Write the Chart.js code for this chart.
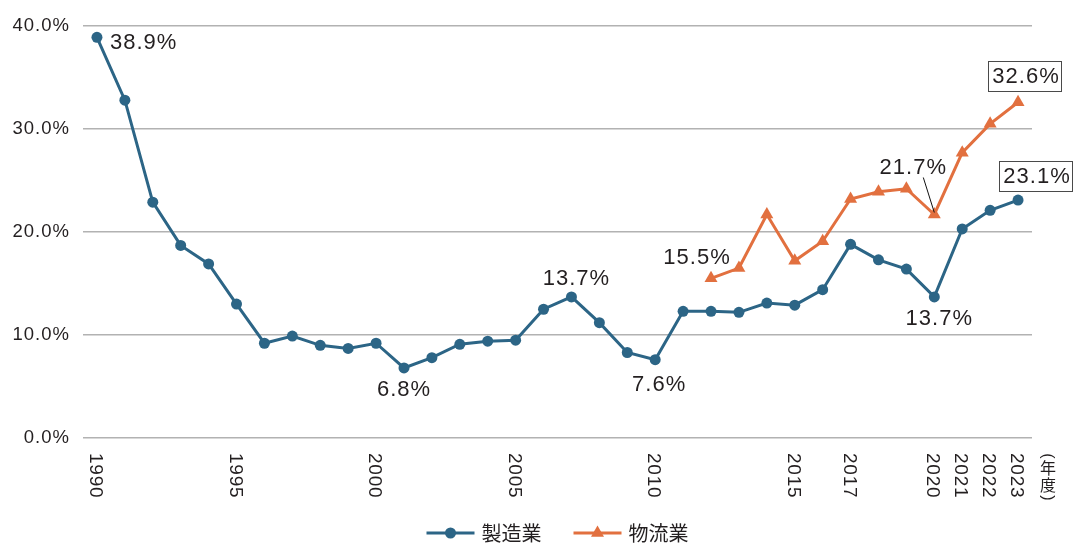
<!DOCTYPE html>
<html>
<head>
<meta charset="utf-8">
<script src="https://cdn.jsdelivr.net/npm/chart.js@4.4.1/dist/chart.umd.min.js"></script>
<style>
  html, body { margin: 0; padding: 0; background: #ffffff; }
  #wrap { width: 1075px; height: 543px; position: relative; }
</style>
</head>
<body>
<div id="wrap"><canvas id="chart" width="1075" height="543"></canvas></div>
<script>
// Fiscal years on the category axis
const years = ['1990','1991','1992','1993','1994','1995','1996','1997','1998','1999',
               '2000','2001','2002','2003','2004','2005','2006','2007','2008','2009',
               '2010','2011','2012','2013','2014','2015','2016','2017','2018','2019',
               '2020','2021','2022','2023'];

// Years that get a printed label under the axis
const shownYears = ['1990','1995','2000','2005','2010','2015','2017','2020','2021','2022','2023'];

// Share in percent — manufacturing
const manufacturing = [38.9, 32.8, 22.9, 18.7, 16.9, 13.0, 9.2, 9.9, 9.0, 8.7,
                       9.2, 6.8, 7.8, 9.1, 9.4, 9.5, 12.5, 13.7, 11.2, 8.3,
                       7.6, 12.3, 12.3, 12.2, 13.1, 12.9, 14.4, 18.8, 17.3, 16.4,
                       13.7, 20.3, 22.1, 23.1];

// Share in percent — logistics (series starts in 2012)
const logistics = [null, null, null, null, null, null, null, null, null, null,
                   null, null, null, null, null, null, null, null, null, null,
                   null, null, 15.5, 16.5, 21.7, 17.2, 19.1, 23.2, 23.9, 24.2,
                   21.7, 27.7, 30.5, 32.6];

const seriesNames = ['製造業', '物流業'];
const unitLabel = ['(', '年', '度', ')'];

const BLUE = '#2c6586';
const ORANGE = '#e2703f';
const TEXT = '#231f20';
const FONT = '"Liberation Sans", Arial, "Noto Sans CJK JP", sans-serif';
const CJK_FONT = '"Noto Sans CJK JP", "Noto Sans", sans-serif';

// Callouts: which series/year to label and where the text sits relative to the point
const callouts = [
  { ds: 0, year: '1990', dx: 13, dy: 5, align: 'left' },
  { ds: 0, year: '2001', dx: 0, dy: 21, align: 'center' },
  { ds: 0, year: '2007', dx: 5, dy: -19, align: 'center' },
  { ds: 0, year: '2010', dx: 4, dy: 24, align: 'center' },
  { ds: 1, year: '2012', dx: -14, dy: -21, align: 'center' },
  { ds: 1, year: '2020', dx: -21, dy: -48, align: 'center', leader: [-11, -37, 0, -2] },
  { ds: 0, year: '2020', dx: 5, dy: 21, align: 'center' },
  { ds: 0, year: '2023', dx: 19, dy: -24, align: 'center', boxed: true },
  { ds: 1, year: '2023', dx: 8, dy: -26, align: 'center', boxed: true }
];

const spacingPlugin = {
  id: 'spacing',
  beforeDraw(chart) { chart.ctx.letterSpacing = '1px'; }
};

const overlayPlugin = {
  id: 'overlay',
  afterDraw(chart) {
    const ctx = chart.ctx;
    const xs = chart.scales.x;
    const area = chart.chartArea;

    // Rotated year labels (reading top to bottom)
    ctx.save();
    ctx.fillStyle = TEXT;
    ctx.font = '19px ' + FONT;
    ctx.letterSpacing = '0.8px';
    ctx.textAlign = 'left';
    ctx.textBaseline = 'alphabetic';
    shownYears.forEach(y => {
      const x = xs.getPixelForValue(years.indexOf(y));
      ctx.save();
      ctx.translate(x, area.bottom + 15);
      ctx.rotate(Math.PI / 2);
      ctx.fillText(y, 0, 7);
      ctx.restore();
    });

    // Vertical unit label: upright kanji, parentheses turned sideways
    const ux = xs.getPixelForValue(years.length - 1) + 30;
    let uy = area.bottom + 14;
    ctx.letterSpacing = '0px';
    unitLabel.forEach(ch => {
      const upright = !(ch === '(' || ch === ')');
      if (upright) {
        ctx.font = '16px ' + CJK_FONT;
        ctx.textAlign = 'center';
        ctx.textBaseline = 'middle';
        ctx.fillText(ch, ux, uy + 8);
        uy += 17;
      } else {
        const step = 8;
        ctx.font = '16px "Liberation Sans", Arial, sans-serif';
        ctx.save();
        ctx.translate(ux, uy + step / 2);
        ctx.rotate(Math.PI / 2);
        ctx.textAlign = 'center';
        ctx.textBaseline = 'middle';
        ctx.fillText(ch, 0, 1);
        ctx.restore();
        uy += step;
      }
    });
    ctx.restore();

    // Value callouts
    ctx.save();
    ctx.font = '22px ' + FONT;
    ctx.letterSpacing = '1px';
    ctx.fillStyle = TEXT;
    ctx.textBaseline = 'middle';
    callouts.forEach(c => {
      const idx = years.indexOf(c.year);
      const v = chart.data.datasets[c.ds].data[idx];
      const pt = chart.getDatasetMeta(c.ds).data[idx];
      const text = v.toFixed(1) + '%';
      const tx = pt.x + c.dx;
      const ty = pt.y + c.dy;
      ctx.textAlign = c.align;
      if (c.boxed) {
        const w = ctx.measureText(text).width;
        ctx.save();
        ctx.fillStyle = '#ffffff';
        ctx.strokeStyle = '#4a4a4a';
        ctx.lineWidth = 1;
        const bx = Math.round(tx - w / 2 - 4) + 0.5;
        const by = Math.round(ty - 15) + 0.5;
        ctx.fillRect(bx, by, Math.round(w + 6), 30);
        ctx.strokeRect(bx, by, Math.round(w + 6), 30);
        ctx.restore();
      }
      ctx.fillText(text, tx, ty + 1);
      if (c.leader) {
        ctx.save();
        ctx.strokeStyle = '#111111';
        ctx.lineWidth = 1;
        ctx.beginPath();
        ctx.moveTo(pt.x + c.leader[0], pt.y + c.leader[1]);
        ctx.lineTo(pt.x + c.leader[2], pt.y + c.leader[3]);
        ctx.stroke();
        ctx.restore();
      }
    });
    ctx.restore();

    // Legend: line + marker swatches centred under the plot area
    ctx.save();
    ctx.font = '20px ' + CJK_FONT;
    ctx.letterSpacing = '0px';
    const lineLen = 48, gapText = 7, gapItem = 32;
    const items = chart.data.datasets.map(ds => ({
      ds, w: lineLen + gapText + ctx.measureText(ds.label).width
    }));
    const total = items.reduce((s, it) => s + it.w, 0) + gapItem * (items.length - 1);
    let lx = (area.left + area.right) / 2 - total / 2;
    const ly = 533;
    items.forEach(it => {
      const ds = it.ds;
      ctx.strokeStyle = ds.borderColor;
      ctx.fillStyle = ds.borderColor;
      ctx.lineWidth = 3;
      ctx.beginPath();
      ctx.moveTo(lx, ly);
      ctx.lineTo(lx + lineLen, ly);
      ctx.stroke();
      Chart.helpers.drawPoint(ctx, {
        pointStyle: ds.pointStyle, radius: ds.pointRadius, rotation: 0, borderWidth: 0
      }, lx + lineLen / 2, ly);
      ctx.fillStyle = TEXT;
      ctx.textAlign = 'left';
      ctx.textBaseline = 'middle';
      ctx.fillText(ds.label, lx + lineLen + gapText, ly);
      lx += it.w + gapItem;
    });
    ctx.restore();
  }
};

new Chart(document.getElementById('chart').getContext('2d'), {
  type: 'line',
  data: {
    labels: years,
    datasets: [
      {
        label: seriesNames[0], data: manufacturing,
        borderColor: BLUE, backgroundColor: BLUE, borderWidth: 3,
        pointStyle: 'circle', pointRadius: 5.5, pointBorderWidth: 0,
        pointBackgroundColor: BLUE, tension: 0
      },
      {
        label: seriesNames[1], data: logistics,
        borderColor: ORANGE, backgroundColor: ORANGE, borderWidth: 3,
        pointStyle: 'triangle', pointRadius: 7.5, pointBorderWidth: 0,
        pointBackgroundColor: ORANGE, tension: 0, spanGaps: false
      }
    ]
  },
  options: {
    responsive: false,
    animation: false,
    layout: { padding: { left: 0, right: 43, top: 26, bottom: 105 } },
    plugins: { legend: { display: false }, tooltip: { enabled: false } },
    scales: {
      x: {
        offset: true,
        grid: { display: false, drawTicks: false },
        border: { display: false },
        ticks: { display: false }
      },
      y: {
        min: 0, max: 40,
        ticks: {
          stepSize: 10, padding: 13, color: TEXT,
          font: { size: 18.5, family: FONT },
          callback: v => v.toFixed(1) + '%'
        },
        grid: { color: '#b2b2b2', lineWidth: 1.5, drawTicks: false },
        border: { display: false },
        afterFit(s) { s.width = 83; }
      }
    }
  },
  plugins: [spacingPlugin, overlayPlugin]
});
</script>
</body>
</html>
